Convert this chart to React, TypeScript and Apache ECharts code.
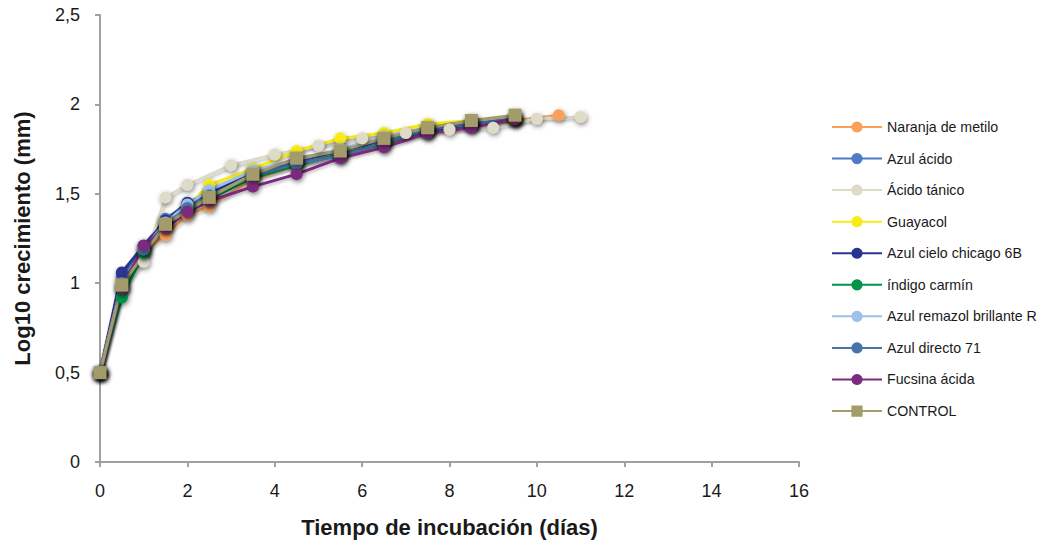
import React, { useEffect, useRef } from "react";
import * as echarts from "echarts";

const days = [0, 0.5, 1, 1.5, 2, 2.5, 3.5, 4.5, 5.5, 6.5, 7.5, 8.5, 9.5];
const naranjaDays = [0, 0.5, 1, 1.5, 2, 2.5, 3.5, 4.5, 5.5, 6.5, 7.5, 8.5, 9.5, 10.5];
const tanicoDays = [0, 0.5, 1, 1.5, 2, 3, 4, 5, 6, 7, 8, 9, 10, 11];
const controlDays = [0, 0.5, 1.5, 2.5, 3.5, 4.5, 5.5, 6.5, 7.5, 8.5, 9.5];

const naranja = [0.5, 0.97, 1.17, 1.27, 1.38, 1.43, 1.58, 1.66, 1.72, 1.78, 1.84, 1.88, 1.91, 1.94];
const azulAcido = [0.5, 1.04, 1.21, 1.36, 1.44, 1.5, 1.62, 1.68, 1.74, 1.8, 1.86, 1.89, 1.92];
const tanico = [0.5, 0.97, 1.12, 1.48, 1.55, 1.66, 1.72, 1.77, 1.81, 1.84, 1.86, 1.87, 1.92, 1.93];
const guayacol = [0.5, 0.98, 1.18, 1.33, 1.43, 1.55, 1.64, 1.74, 1.81, 1.84, 1.89, 1.91, 1.93];
const azulCielo = [0.5, 1.06, 1.21, 1.35, 1.45, 1.5, 1.62, 1.69, 1.74, 1.8, 1.85, 1.89, 1.92];
const indigo = [0.5, 0.92, 1.17, 1.32, 1.41, 1.47, 1.59, 1.66, 1.72, 1.78, 1.86, 1.9, 1.93];
const remazol = [0.5, 1.0, 1.19, 1.34, 1.44, 1.52, 1.63, 1.69, 1.75, 1.82, 1.87, 1.9, 1.93];
const azulDirecto = [0.5, 1.0, 1.19, 1.33, 1.42, 1.49, 1.6, 1.67, 1.71, 1.79, 1.86, 1.89, 1.92];
const fucsina = [0.5, 0.97, 1.21, 1.31, 1.4, 1.46, 1.54, 1.61, 1.7, 1.76, 1.84, 1.87, 1.92];
const control = [0.5, 0.99, 1.33, 1.48, 1.61, 1.7, 1.74, 1.81, 1.87, 1.91, 1.94];

const seriesDefs = [
  { name: "Naranja de metilo", x: naranjaDays, y: naranja, color: "#F9A05A", symbol: "circle" },
  { name: "Azul ácido", x: days, y: azulAcido, color: "#4F7BC4", symbol: "circle" },
  { name: "Ácido tánico", x: tanicoDays, y: tanico, color: "#DEDBC8", symbol: "circle" },
  { name: "Guayacol", x: days, y: guayacol, color: "#F7EC17", symbol: "circle" },
  { name: "Azul cielo chicago 6B", x: days, y: azulCielo, color: "#2B3491", symbol: "circle" },
  { name: "índigo carmín", x: days, y: indigo, color: "#009448", symbol: "circle" },
  { name: "Azul remazol brillante R", x: days, y: remazol, color: "#9DC1E8", symbol: "circle" },
  { name: "Azul directo 71", x: days, y: azulDirecto, color: "#4675A8", symbol: "circle" },
  { name: "Fucsina ácida", x: days, y: fucsina, color: "#7B2A7F", symbol: "circle" },
  { name: "CONTROL", x: controlDays, y: control, color: "#A39C6B", symbol: "rect" },
];

const FONT = "Liberation Sans, Arial, sans-serif";

export default function App() {
  const ref = useRef<HTMLDivElement>(null);
  useEffect(() => {
    if (!ref.current) return;
    const chart = echarts.init(ref.current, null, { renderer: "svg" });
    const fmt = (v: number) => String(v).replace(".", ",");
    chart.setOption({
      animation: false,
      backgroundColor: "#ffffff",
      grid: { left: 100, right: 243, top: 15, bottom: 82, containLabel: false },
      xAxis: {
        type: "value",
        min: 0,
        max: 16,
        interval: 2,
        name: "Tiempo de incubación (días)",
        nameLocation: "middle",
        nameGap: 54,
        nameTextStyle: { fontFamily: FONT, fontSize: 22, fontWeight: "bold", color: "#1a1a1a" },
        axisLine: { lineStyle: { color: "#a0a0a0", width: 2 } },
        axisTick: { show: true, length: 5, lineStyle: { color: "#a0a0a0", width: 2 } },
        axisLabel: { fontFamily: FONT, fontSize: 18, color: "#1a1a1a", margin: 20 },
        splitLine: { show: false },
      },
      yAxis: {
        type: "value",
        min: 0,
        max: 2.5,
        interval: 0.5,
        name: "Log10 crecimiento (mm)",
        nameLocation: "middle",
        nameGap: 67,
        nameTextStyle: { fontFamily: FONT, fontSize: 22, fontWeight: "bold", color: "#1a1a1a" },
        axisLine: { show: true, lineStyle: { color: "#a0a0a0", width: 2 } },
        axisTick: { show: true, length: 5, lineStyle: { color: "#a0a0a0", width: 2 } },
        axisLabel: { fontFamily: FONT, fontSize: 18, color: "#1a1a1a", margin: 20, formatter: fmt },
        splitLine: { show: false },
      },
      legend: {
        orient: "vertical",
        left: 826,
        top: 114,
        itemWidth: 50,
        itemHeight: 14,
        itemGap: 15.56,
        textStyle: { fontFamily: FONT, fontSize: 14.2, lineHeight: 16, color: "#1a1a1a" },
        data: seriesDefs.map((s) => s.name),
      },
      series: seriesDefs.map((s) => ({
        name: s.name,
        type: "line",
        data: s.x.map((d, i) => [d, s.y[i]]),
        symbol: s.symbol,
        symbolSize: s.symbol === "rect" ? 13 : 12,
        color: s.color,
        lineStyle: {
          width: 3,
          color: s.color,
          shadowBlur: 3,
          shadowColor: "rgba(0,0,0,0.25)",
          shadowOffsetX: 1,
          shadowOffsetY: 2,
        },
        itemStyle: {
          color: s.color,
          shadowBlur: 5,
          shadowColor: "rgba(0,0,0,0.5)",
          shadowOffsetX: 1,
          shadowOffsetY: 2,
        },
        emphasis: { disabled: true },
      })),
    });
    return () => chart.dispose();
  }, []);
  return (
    <div
      ref={ref}
      style={{ position: "fixed", left: 0, top: 0, width: 1042, height: 544 }}
    />
  );
}
